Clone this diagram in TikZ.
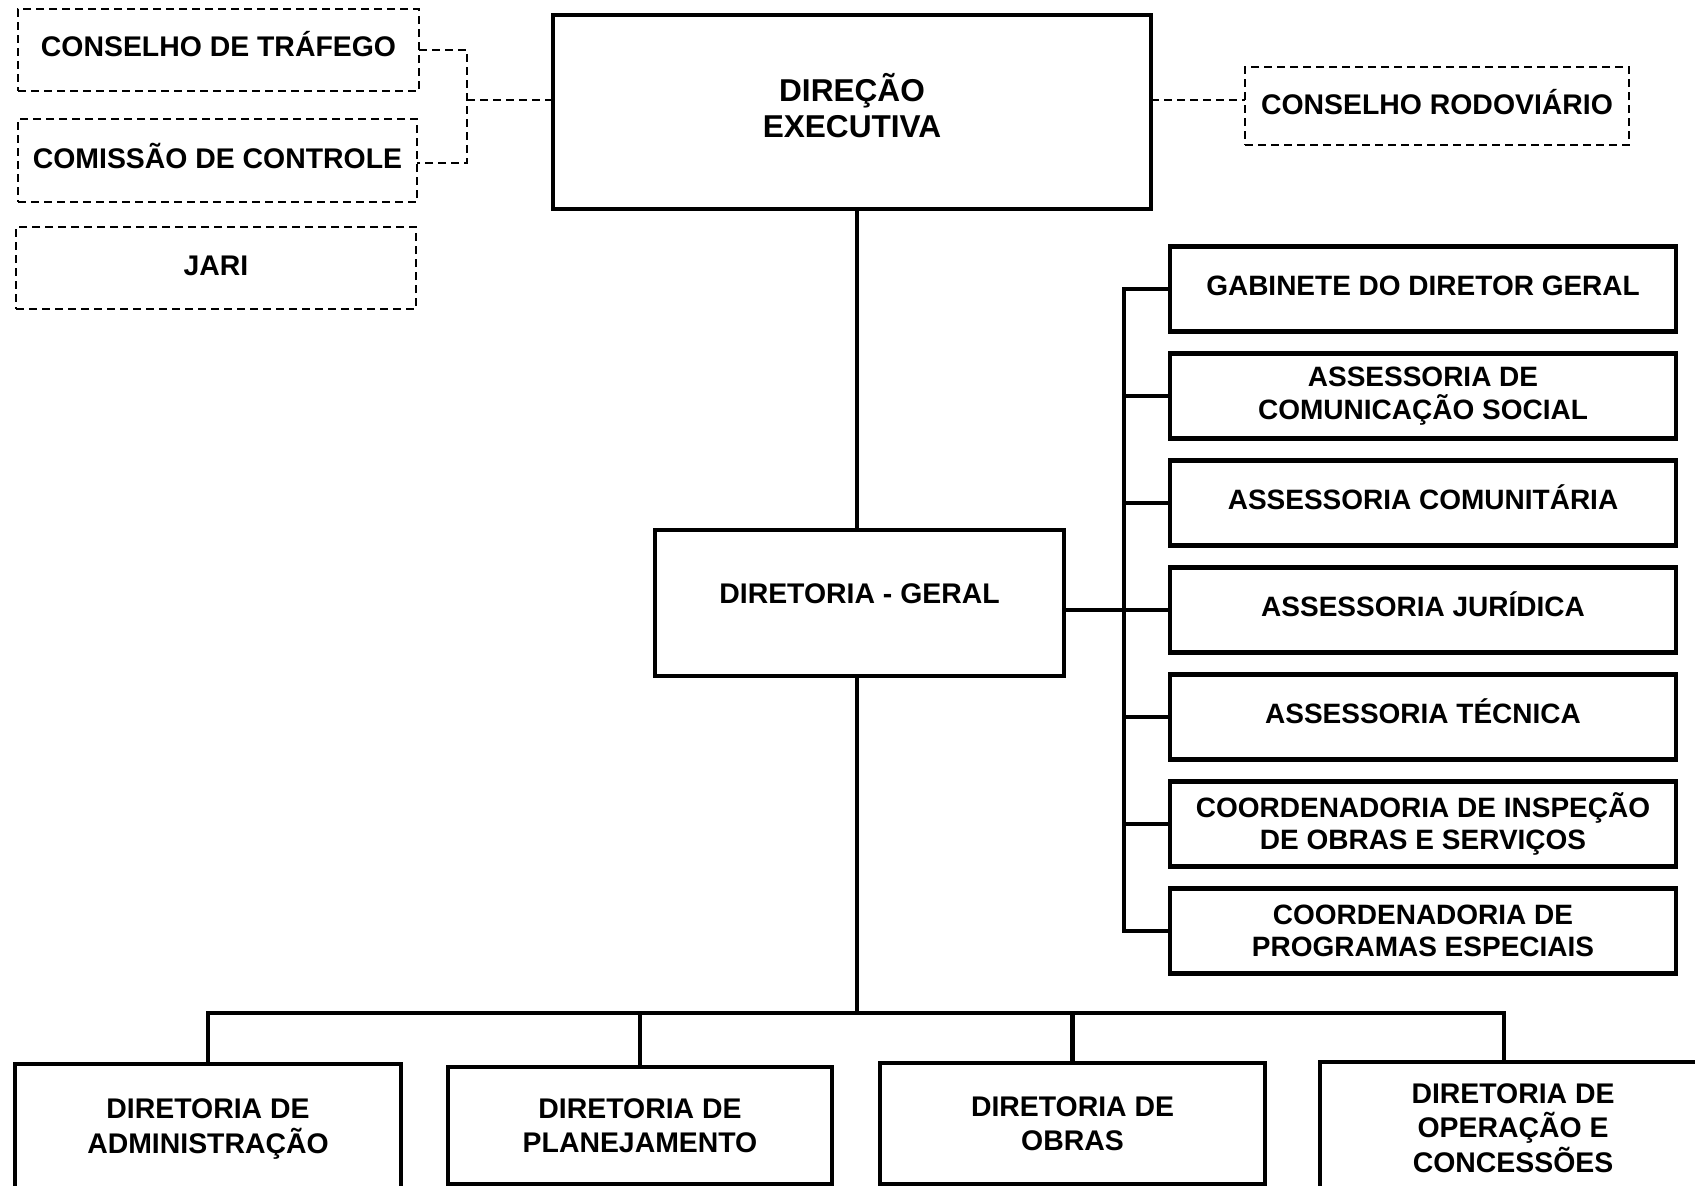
\documentclass[tikz,border=0pt]{standalone}
\usepackage{fontspec}
\setmainfont{Liberation Sans}
\begin{document}
\begin{tikzpicture}[x=0.5pt,y=-0.5pt,
  every node/.style={inner sep=0pt, outer sep=0pt, align=center,
    font=\bfseries\fontsize{14.2}{17.3}\selectfont},
  solidbox/.style={draw, line width=2.3pt},
  dashbox/.style={draw, line width=0.85pt, dash pattern=on 4pt off 2.5pt},
  rbox/.style={solidbox, minimum width=253pt, minimum height=42.5pt,
    font=\bfseries\fontsize{14}{16.2}\selectfont},
  conn/.style={line width=2.3pt},
  dconn/.style={line width=0.85pt, dash pattern=on 4pt off 2.5pt},
  lift/.style={text height=10.1pt, text depth=#1},
]
\clip (0,0) rectangle (1695,1185);
\fill[white] (0,0) rectangle (1695,1185);

% left dashed boxes
\node[dashbox, minimum width=200.5pt, minimum height=41pt, lift=3.5pt] (ct) at (218.5,50) {CONSELHO DE TRÁFEGO};
\node[dashbox, minimum width=199.5pt, minimum height=41.5pt, lift=2.5pt] (cc) at (217.5,160.5) {COMISSÃO DE CONTROLE};
\node[dashbox, minimum width=200pt, minimum height=41pt, lift=3pt] (jari) at (216,268) {JARI};

% top
\node[solidbox, minimum width=299pt, minimum height=97pt, text depth=6.5pt,
  font=\bfseries\fontsize{15.8}{18.4}\selectfont] (de) at (852,112) {DIREÇÃO\\EXECUTIVA};
\node[dashbox, minimum width=192pt, minimum height=39pt, lift=2pt] (cr) at (1437,106) {CONSELHO RODOVIÁRIO};

% general directorate
\node[solidbox, minimum width=204.5pt, minimum height=73pt, lift=10pt] (dg) at (859.5,603) {DIRETORIA - GERAL};

% right column
\node[rbox, lift=4pt] (r1) at (1423,289) {GABINETE DO DIRETOR GERAL};
\node[rbox] (r2) at (1423,396) {ASSESSORIA DE\\COMUNICAÇÃO SOCIAL};
\node[rbox, lift=4pt] (r3) at (1423,503) {ASSESSORIA COMUNITÁRIA};
\node[rbox, lift=4pt] (r4) at (1423,610) {ASSESSORIA JURÍDICA};
\node[rbox, lift=4pt] (r5) at (1423,717) {ASSESSORIA TÉCNICA};
\node[rbox] (r6) at (1423,824) {COORDENADORIA DE INSPEÇÃO\\DE OBRAS E SERVIÇOS};
\node[rbox] (r7) at (1423,931) {COORDENADORIA DE\\PROGRAMAS ESPECIAIS};

% bottom row
\node[solidbox, minimum width=193pt, minimum height=65pt] (b1) at (208,1129) {DIRETORIA DE\\ADMINISTRAÇÃO};
\node[solidbox, minimum width=192pt, minimum height=58.5pt] (b2) at (640,1125.5) {DIRETORIA DE\\PLANEJAMENTO};
\node[solidbox, minimum width=192.5pt, minimum height=60.5pt] (b3) at (1072.5,1123.5) {DIRETORIA DE\\OBRAS};
\node[solidbox, minimum width=193pt, minimum height=66pt] (b4) at (1513,1128) {DIRETORIA DE\\OPERAÇÃO E\\CONCESSÕES};

% dashed connectors
\coordinate (lj) at (467,100);
\draw[dconn] (ct.east) -| (lj) |- ([yshift=-1.25pt]cc.east);
\draw[dconn] (lj) -- (lj -| de.west);
\draw[dconn] (de.east |- lj) -- (cr.west |- lj);

% vertical spine
\coordinate (vx) at (857,0);
\coordinate (bus) at (857,1013);
\coordinate (d4) at (1504,1013);
\draw[conn] (de.south -| vx) -- (dg.north -| vx);
\draw[conn] (dg.south -| vx) -- (bus);

% bottom bus
\draw[conn] (b1.north) |- (d4) -- (d4 |- b4.north);
\draw[conn] (b2.north |- bus) -- (b2.north);
\draw[conn] (b3.north |- bus) -- (b3.north);

% right trunk
\coordinate (tx) at (1124,0);
\draw[conn] (r1.west) -- (r1.west -| tx) -- (r7.west -| tx) -- (r7.west);
\foreach \r in {r2,r3,r4,r5,r6} \draw[conn] (\r.west -| tx) -- (\r.west);
\draw[conn] (dg.east |- r4.west) -- (r4.west -| tx);
\end{tikzpicture}
\end{document}
